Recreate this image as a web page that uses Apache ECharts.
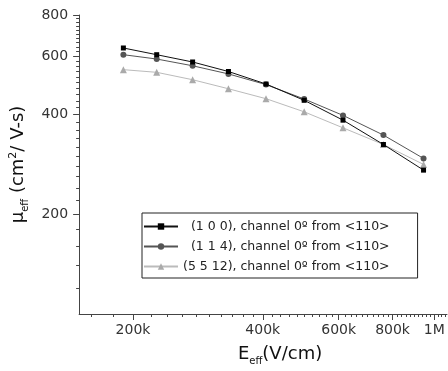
<!DOCTYPE html>
<html><head><meta charset="utf-8">
<script src="https://cdn.jsdelivr.net/npm/echarts@6/dist/echarts.min.js"></script>
<style>html,body{margin:0;padding:0;background:#fff}#c{width:448px;height:371px}</style>
</head><body><div id="c"></div>
<script>
// Data (E_eff in V/cm, mobility in cm^2/V-s)
const fieldValues = [190000, 227000, 275000, 333000, 407000, 499000, 614000, 762000, 944000];
const mob100  = [636, 607, 577, 540, 495, 442, 385, 325, 272];
const mob114  = [607, 589, 562, 531, 493, 446, 398, 347, 295];
const mob5512 = [547, 537, 510, 479, 447, 408, 365, 325, 283];
const seriesNames = [
  '  (1 0 0), channel 0\u00BA from <110>',
  '  (1 1 4), channel 0\u00BA from <110>',
  '(5 5 12), channel 0\u00BA from <110>'
];
const xTickValues = [200000, 400000, 600000, 800000, 1000000];
const xTickLabels = ['200k', '400k', '600k', '800k', '1M'];
const yTickValues = [200, 400, 600, 800];
const yTickLabels = ['200', '400', '600', '800'];

const xMin = 150000, xMax = 1070000, yMin = 100, yMax = 800;
const xMinor = [], yMinor = [];
for (let v = 160000; v < xMax; v += 20000) if (xTickValues.indexOf(v) < 0) xMinor.push(v);
for (let v = 120; v < yMax; v += 20) if (yTickValues.indexOf(v) < 0) yMinor.push(v);

function pick(vals, labels, v) {
  let best = 0, bd = Infinity;
  vals.forEach((t, i) => { const d = Math.abs(Math.log(t) - Math.log(v)); if (d < bd) { bd = d; best = i; } });
  return labels[best];
}
const pair = (xs, ys) => xs.map((x, i) => [x, ys[i]]);
const axisCol = '#444';
const font = 'DejaVu Sans, Verdana, sans-serif';

const chart = echarts.init(document.getElementById('c'), null, {renderer: 'canvas'});
chart.setOption({
  animation: false,
  backgroundColor: '#fff',
  grid: {left: 79, top: 15, right: 1, bottom: 56, containLabel: false},
  legend: {
    orient: 'vertical', left: 142, top: 213,
    padding: [7, 28, 5, 1], itemGap: 7,
    itemWidth: 34, itemHeight: 8,
    borderColor: '#222', borderWidth: 1, backgroundColor: '#fff',
    textStyle: {fontFamily: font, fontSize: 12.5, color: '#222'},
    data: seriesNames
  },
  xAxis: [{
    type: 'log', min: xMin, max: xMax, position: 'bottom',
    name: '{b|E}{s|eff}{b|(V/cm)}', nameLocation: 'middle', nameGap: 28,
    nameTextStyle: {padding: [0, 0, 0, 34], rich: {
      b: {fontFamily: font, fontSize: 18, color: '#111'},
      s: {fontFamily: font, fontSize: 10, color: '#111', padding: [14, 0, 0, 0]}
    }},
    axisLine: {show: true, lineStyle: {color: axisCol, width: 1}},
    axisTick: {show: true, inside: false, length: 6, customValues: xTickValues, lineStyle: {color: axisCol}},
    axisLabel: {customValues: xTickValues, margin: 9, fontFamily: font, fontSize: 14, color: '#333',
      formatter: v => pick(xTickValues, xTickLabels, v)},
    splitLine: {show: false}, minorTick: {show: false}
  }, {
    type: 'log', min: xMin, max: xMax, position: 'bottom',
    axisLine: {show: false},
    axisTick: {show: true, length: 3, customValues: xMinor, lineStyle: {color: axisCol}},
    axisLabel: {show: false}, splitLine: {show: false}
  }],
  yAxis: [{
    type: 'log', min: yMin, max: yMax, position: 'left',
    name: '{b|\u03BC}{s|eff}{b| (cm}{p|2}{b|/ V-s)}', nameLocation: 'middle', nameGap: 31, nameRotate: 90,
    nameTextStyle: {rich: {
      b: {fontFamily: font, fontSize: 18, color: '#111'},
      s: {fontFamily: font, fontSize: 10, color: '#111', padding: [14, 0, 0, 0]},
      p: {fontFamily: font, fontSize: 11, color: '#111', padding: [0, 0, 10, 0]}
    }},
    axisLine: {show: true, lineStyle: {color: axisCol, width: 1}},
    axisTick: {show: true, inside: false, length: 6, customValues: yTickValues, lineStyle: {color: axisCol}},
    axisLabel: {customValues: yTickValues, margin: 11, fontFamily: font, fontSize: 14, color: '#333',
      formatter: v => pick(yTickValues, yTickLabels, v)},
    splitLine: {show: false}
  }, {
    type: 'log', min: yMin, max: yMax, position: 'left',
    axisLine: {show: false},
    axisTick: {show: true, length: 3, customValues: yMinor, lineStyle: {color: axisCol}},
    axisLabel: {show: false}, splitLine: {show: false}
  }],
  series: [
    {name: seriesNames[0], type: 'line', xAxisIndex: 0, yAxisIndex: 0, data: pair(fieldValues, mob100),
      symbol: 'rect', symbolSize: 5, itemStyle: {color: '#000'}, lineStyle: {color: '#111', width: 1}, z: 4},
    {name: seriesNames[1], type: 'line', xAxisIndex: 0, yAxisIndex: 0, data: pair(fieldValues, mob114),
      symbol: 'circle', symbolSize: 6, itemStyle: {color: '#555'}, lineStyle: {color: '#555', width: 1}, z: 3},
    {name: seriesNames[2], type: 'line', xAxisIndex: 0, yAxisIndex: 0, data: pair(fieldValues, mob5512),
      symbol: 'triangle', symbolSize: 7, itemStyle: {color: '#aaa'}, lineStyle: {color: '#bbb', width: 1}, z: 2}
  ]
});
</script></body></html>
